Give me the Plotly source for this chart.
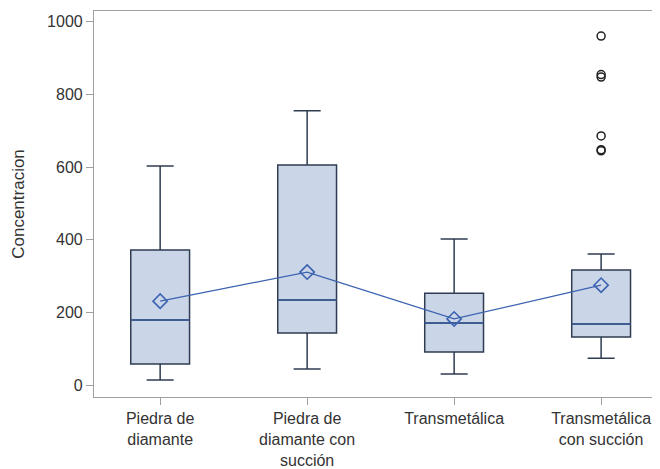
import plotly.graph_objects as go

categories = ["Piedra de<br>diamante", "Piedra de<br>diamante con<br>succión",
              "Transmetálica", "Transmetálica<br>con succión"]
q1 = [58, 143, 91, 132]
median = [179, 234, 171, 168]
q3 = [372, 606, 253, 317]
lower_whisker = [14, 44, 30, 74]
upper_whisker = [603, 755, 402, 361]
means = [231, 311, 182, 275]
outlier_group = [3, 3, 3, 3, 3, 3]
outlier_values = [961, 855, 848, 686, 648, 645]
y_ticks = [0, 200, 400, 600, 800, 1000]

xpos = list(range(len(categories)))
box_w = 0.40
font = "Liberation Sans, Arial, sans-serif"

fig = go.Figure()
for i in xpos:
    fig.add_trace(go.Box(
        x=[i], q1=[q1[i]], median=[median[i]], q3=[q3[i]],
        lowerfence=[lower_whisker[i]], upperfence=[upper_whisker[i]],
        width=box_w, whiskerwidth=0.46,
        fillcolor="#cad6e7", line=dict(color="#2f3d52", width=1.5),
        boxpoints=False, showlegend=False, hoverinfo="skip"))
    fig.add_trace(go.Scatter(
        x=[i - box_w / 2, i + box_w / 2], y=[median[i], median[i]],
        mode="lines", line=dict(color="#3a5c9c", width=1.5),
        showlegend=False, hoverinfo="skip"))

fig.add_trace(go.Scatter(
    x=xpos, y=means, mode="lines+markers",
    line=dict(color="#3b62b0", width=1.3),
    marker=dict(symbol="diamond-open", size=11, color="#3b62b0", line=dict(width=1.6)),
    showlegend=False))

fig.add_trace(go.Scatter(
    x=outlier_group, y=outlier_values, mode="markers",
    marker=dict(symbol="circle-open", size=8, color="#222222", line=dict(width=1.5)),
    showlegend=False))

fig.update_layout(
    width=660, height=469,
    margin=dict(l=86, r=0, t=3, b=80),
    plot_bgcolor="white", paper_bgcolor="white",
    font=dict(family=font, size=16, color="#333"),
    xaxis=dict(range=[-0.45, 3.455], tickvals=xpos, ticktext=categories,
               showgrid=False, zeroline=False, showline=True, mirror=True,
               linecolor="#a0a0a0", linewidth=1.2, ticks="outside", ticklen=7,
               tickcolor="#a0a0a0", tickfont=dict(family=font, size=16, color="#333")),
    yaxis=dict(range=[-33, 1030], tickvals=y_ticks, showgrid=False, zeroline=False,
               showline=True, linecolor="#a0a0a0", linewidth=1.2,
               ticks="outside", ticklen=7, tickcolor="#a0a0a0",
               tickfont=dict(family=font, size=16, color="#333"),
               title=dict(text="Concentracion",
                          font=dict(family=font, size=17, color="#333"), standoff=18)),
)

fig.write_html("out.html")
